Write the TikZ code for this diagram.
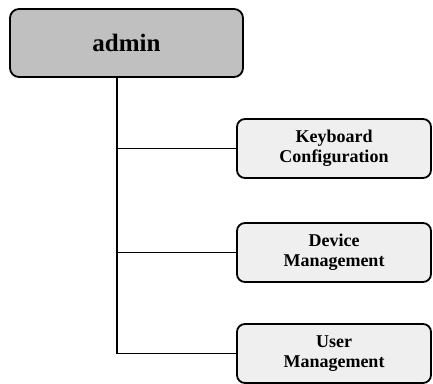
\documentclass[tikz,border=0pt]{standalone}
\usepackage{fontspec}
\setmainfont{Liberation Serif}
\usetikzlibrary{positioning}

\definecolor{rootgray}{HTML}{C0C0C0}
\definecolor{leafgray}{HTML}{EFEFEF}

\begin{document}
\begin{tikzpicture}[x=1pt,y=1pt,
		root/.style={shape=rectangle,rounded corners=9pt,draw=black,line width=1.8pt,fill=rootgray,minimum width=233pt,minimum height=68pt,font=\fontsize{25}{27}\selectfont\bfseries},
		leaf/.style={shape=rectangle,rounded corners=8pt,draw=black,line width=1.8pt,fill=leafgray,minimum width=194pt,minimum height=59pt,align=center,font=\fontsize{18}{20}\selectfont\bfseries},
		branch/.style={-,line width=1.8pt,black}]
				\useasboundingbox (0,0) rectangle (433,383);
				\node[root] (admin) at (126.5,340) {admin};
				\node[leaf] (kbd) at (334,234.5) {Keyboard\\Configuration};
				\node[leaf] (dev) at (334,130.5) {Device\\Management};
				\node[leaf] (usr) at (334,29.5) {User\\Management};
				\coordinate (trunk) at (117,0);
				
				\draw [branch] (admin.south -| trunk) -- (trunk |- usr.west) -- (usr.west);
				\path [branch] (trunk |- kbd.west) edge (kbd.west);
				\path [branch] (trunk |- dev.west) edge (dev.west);
				\end{tikzpicture}
\end{document}
